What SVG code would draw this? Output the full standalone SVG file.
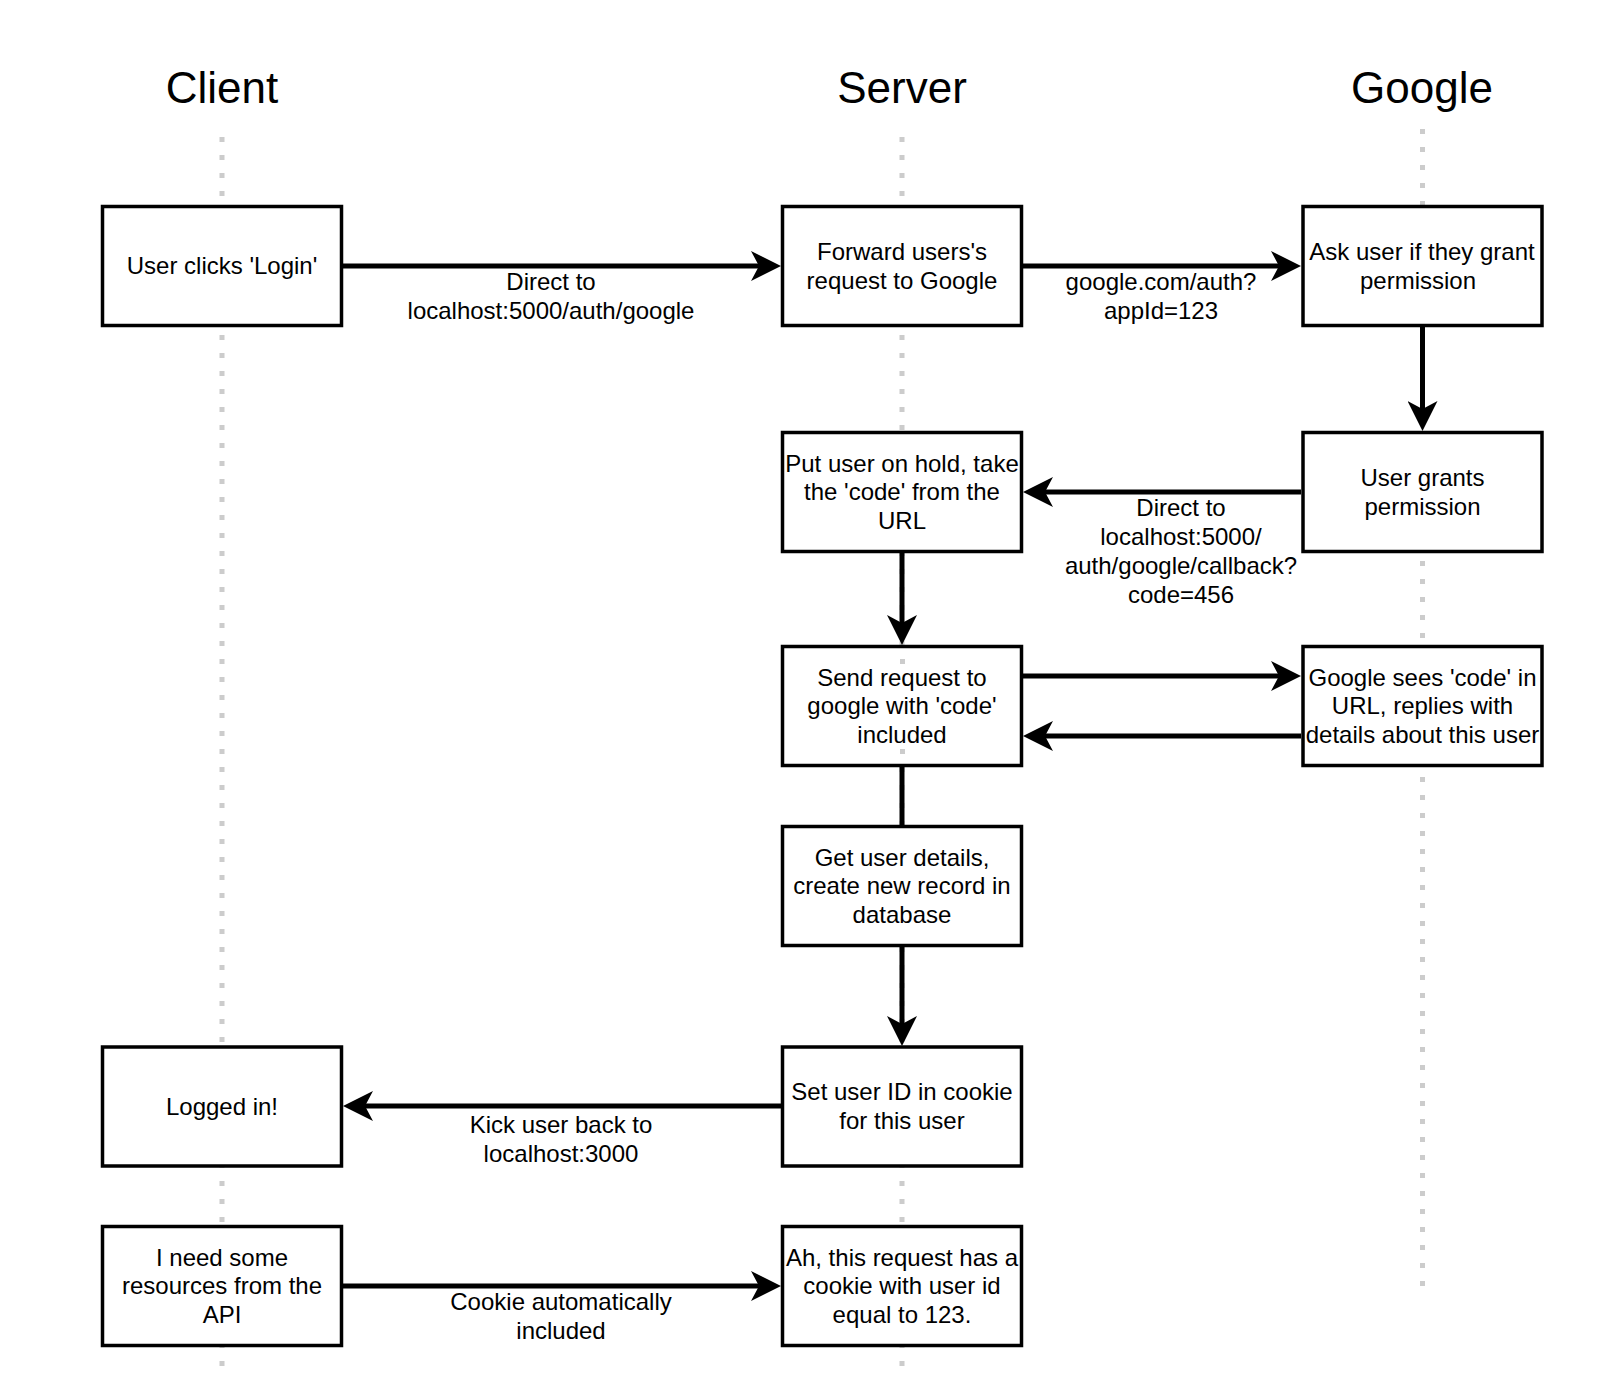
<svg xmlns="http://www.w3.org/2000/svg" width="1598" height="1396" viewBox="0 0 1598 1396">
<style>
.bg{fill:#ffffff}
.box{fill:#ffffff;stroke:#000000;stroke-width:3.5}
.life{stroke:#cccccc;stroke-width:5;stroke-dasharray:5 13;fill:none}
.dot{fill:#cccccc}
.edge{stroke:#000000;stroke-width:5;fill:none}
.t{font-family:"Liberation Sans",Arial,Helvetica,sans-serif;font-size:24px;fill:#000000;text-anchor:middle}
.title{font-family:"Liberation Sans",Arial,Helvetica,sans-serif;font-size:44px;fill:#000000;text-anchor:middle}
</style>
<defs>
<marker id="ah" markerUnits="userSpaceOnUse" markerWidth="30" markerHeight="30" viewBox="0 0 30 30" refX="8" refY="15" orient="auto">
<path d="M0,0 L30,15 L0,30 L8,15 Z" fill="#000000"/>
</marker>
</defs>
<rect class="bg" x="0" y="0" width="1598" height="1396"/>

<g id="lifelines">
<line class="life" x1="222" y1="137" x2="222" y2="1368"/>
<line class="life" x1="902" y1="137" x2="902" y2="1368"/>
<line class="life" x1="1422.5" y1="129" x2="1422.5" y2="1291"/>
</g>

<g id="titles">
<text class="title" x="222" y="103">Client</text>
<text class="title" x="902" y="103">Server</text>
<text class="title" x="1422" y="103">Google</text>
</g>

<g id="connectors">
<path class="edge" d="M343,266 H759" marker-end="url(#ah)"/>
<path class="edge" d="M1023,266 H1279" marker-end="url(#ah)"/>
<path class="edge" d="M1422.5,327 V409" marker-end="url(#ah)"/>
<path class="edge" d="M1301,492 H1045" marker-end="url(#ah)"/>
<path class="edge" d="M902,552 V623" marker-end="url(#ah)"/>
<path class="edge" d="M1023,676 H1279" marker-end="url(#ah)"/>
<path class="edge" d="M1301,736 H1045" marker-end="url(#ah)"/>
<path class="edge" d="M902,767 V825"/>
<path class="edge" d="M902,947 V1024" marker-end="url(#ah)"/>
<path class="edge" d="M781,1106 H365" marker-end="url(#ah)"/>
<path class="edge" d="M343,1286 H759" marker-end="url(#ah)"/>
<g id="edge-labels">
<text class="t" x="551" y="290.3">Direct to</text>
<text class="t" x="551" y="319.1">localhost:5000/auth/google</text>
<text class="t" x="1161" y="290.3">google.com/auth?</text>
<text class="t" x="1161" y="319.1">appId=123</text>
<text class="t" x="1181" y="516.3">Direct to</text>
<text class="t" x="1181" y="545.1">localhost:5000/</text>
<text class="t" x="1181" y="573.9">auth/google/callback?</text>
<text class="t" x="1181" y="602.7">code=456</text>
<text class="t" x="561" y="1133.3">Kick user back to</text>
<text class="t" x="561" y="1162.1">localhost:3000</text>
<text class="t" x="561" y="1310.3">Cookie automatically</text>
<text class="t" x="561" y="1339.1">included</text>
</g>
</g>

<g id="node-client-login">
<rect class="box" x="102.5" y="206.5" width="239" height="119"/>
<text class="t" x="222" y="274.3">User clicks 'Login'</text>
</g>
<g id="node-server-forward">
<rect class="box" x="782.5" y="206.5" width="239" height="119"/>
<text class="t" x="902" y="259.9">Forward users's</text>
<text class="t" x="902" y="288.7">request to Google</text>
</g>
<g id="node-google-ask">
<rect class="box" x="1303" y="206.5" width="239" height="119"/>
<text class="t" x="1422" y="259.9">Ask user if they grant</text>
<text class="t" x="1418" y="288.7">permission</text>
</g>
<g id="node-google-grants">
<rect class="box" x="1303" y="432.5" width="239" height="119"/>
<text class="t" x="1422.5" y="485.9">User grants</text>
<text class="t" x="1422.5" y="514.7">permission</text>
</g>
<g id="node-server-hold">
<rect class="box" x="782.5" y="432.5" width="239" height="119"/>
<text class="t" x="902" y="471.5">Put user on hold, take</text>
<text class="t" x="902" y="500.3">the 'code' from the</text>
<text class="t" x="902" y="529.1">URL</text>
</g>
<g id="node-server-send">
<rect class="box" x="782.5" y="646.5" width="239" height="119"/>
<rect class="dot" x="900" y="659" width="5" height="5"/>
<rect class="dot" x="900" y="749" width="5" height="5"/>
<text class="t" x="902" y="685.5">Send request to</text>
<text class="t" x="902" y="714.3">google with 'code'</text>
<text class="t" x="902" y="743.1">included</text>
</g>
<g id="node-google-sees">
<rect class="box" x="1303" y="646.5" width="239" height="119"/>
<text class="t" x="1422.5" y="685.5">Google sees 'code' in</text>
<text class="t" x="1422.5" y="714.3">URL, replies with</text>
<text class="t" x="1422.5" y="743.1">details about this user</text>
</g>
<g id="node-server-details">
<rect class="box" x="782.5" y="826.5" width="239" height="119"/>
<text class="t" x="902" y="865.5">Get user details,</text>
<text class="t" x="902" y="894.3">create new record in</text>
<text class="t" x="902" y="923.1">database</text>
</g>
<g id="node-server-cookie">
<rect class="box" x="782.5" y="1047" width="239" height="119"/>
<text class="t" x="902" y="1100.4">Set user ID in cookie</text>
<text class="t" x="902" y="1129.2">for this user</text>
</g>
<g id="node-client-loggedin">
<rect class="box" x="102.5" y="1047" width="239" height="119"/>
<text class="t" x="222" y="1114.8">Logged in!</text>
</g>
<g id="node-client-resources">
<rect class="box" x="102.5" y="1226.5" width="239" height="119"/>
<text class="t" x="222" y="1265.5">I need some</text>
<text class="t" x="222" y="1294.3">resources from the</text>
<text class="t" x="222" y="1323.1">API</text>
</g>
<g id="node-server-request">
<rect class="box" x="782.5" y="1226.5" width="239" height="119"/>
<text class="t" x="902" y="1265.5">Ah, this request has a</text>
<text class="t" x="902" y="1294.3">cookie with user id</text>
<text class="t" x="902" y="1323.1">equal to 123.</text>
</g>
</svg>
